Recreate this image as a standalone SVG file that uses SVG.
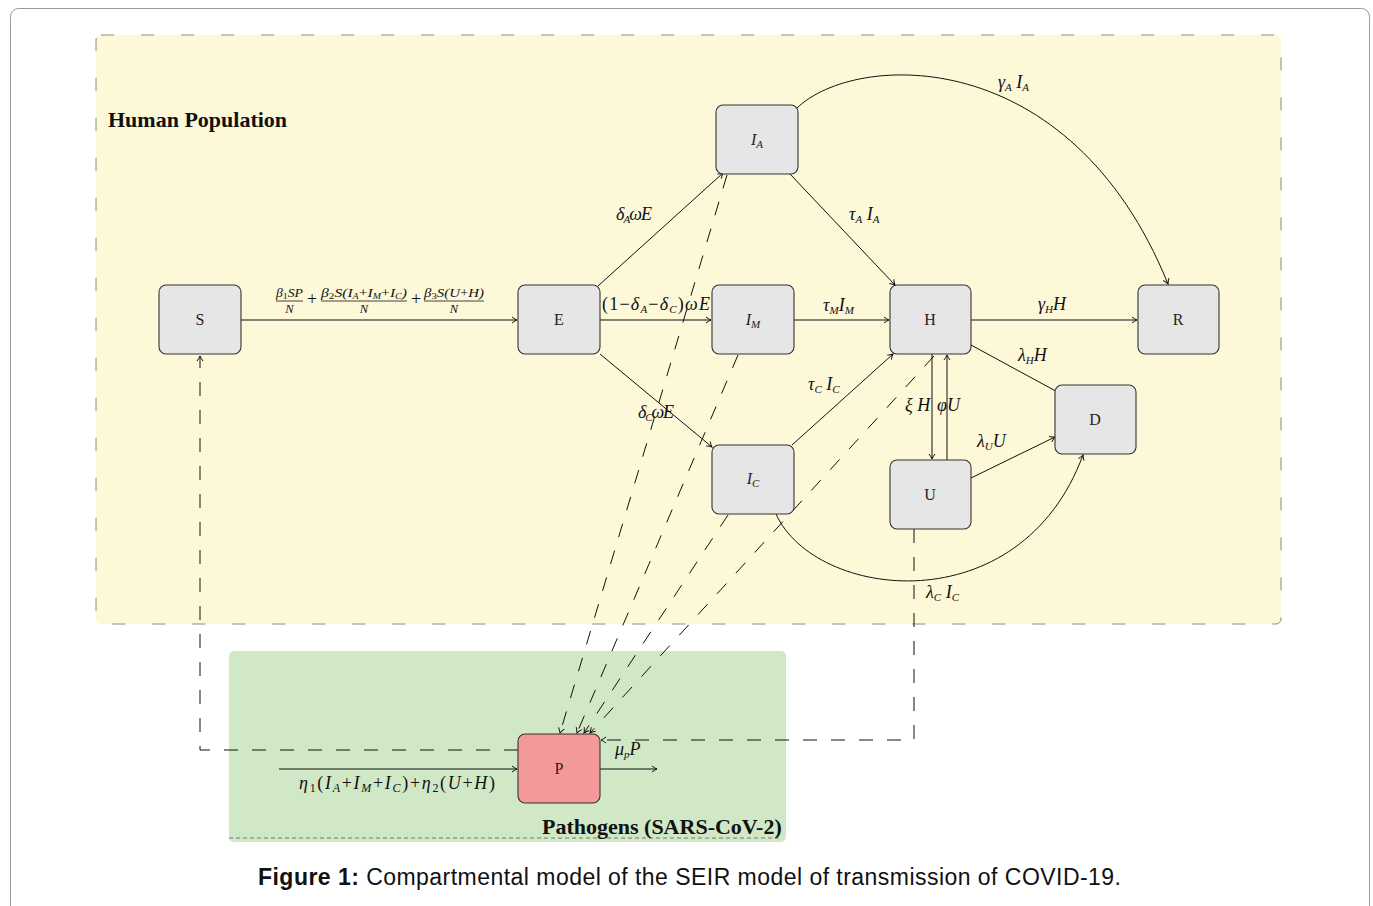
<svg xmlns="http://www.w3.org/2000/svg" width="1373" height="906" viewBox="0 0 1373 906">
<defs>
<style>
.node{fill:#e6e6e6;stroke:#333;stroke-width:1.1}
.pnode{fill:#f4999a;stroke:#333;stroke-width:1.1}
.edge{fill:none;stroke:#111;stroke-width:1}
.dash{fill:none;stroke:#111;stroke-width:1;stroke-dasharray:14 14}
.nl{font-family:"Liberation Serif",serif;font-size:16px;fill:#222;text-anchor:middle}
.m{font-family:"Liberation Serif",serif;font-style:italic;font-size:18px;fill:#111}
.fr{font-family:"Liberation Serif",serif;font-style:italic;font-size:12.5px;fill:#111}
.title{font-family:"Liberation Serif",serif;font-weight:bold;font-size:22px;fill:#111}
</style>
<marker id="ar" markerWidth="10" markerHeight="10" refX="7" refY="5" orient="auto" markerUnits="userSpaceOnUse">
<path d="M2,2 Q5,4.2 7,5 Q5,5.8 2,8" fill="none" stroke="#111" stroke-width="1"/>
</marker>
</defs>
<rect x="0" y="0" width="1373" height="906" fill="#fff"/>
<rect x="10.5" y="8.5" width="1359" height="910" rx="8" fill="#fff" stroke="#9a9a9a" stroke-width="1"/>

<g id="human-population">
<rect x="96" y="35" width="1185" height="589" rx="5" fill="#fdf8d8" stroke="#8a8a8a" stroke-width="1" stroke-dasharray="13 27"/>
<text class="title" x="108" y="127">Human Population</text>
</g>
<g id="pathogens">
<rect x="229" y="651" width="557" height="191" rx="5" fill="#d0e8c5"/>
<line x1="229" y1="838" x2="781" y2="838" stroke="#777" stroke-width="1.2" stroke-dasharray="4 3"/>
<text class="title" x="542" y="834">Pathogens (SARS-CoV-2)</text>
</g>

<g id="connectors">
<line class="edge" x1="241" y1="320" x2="517" y2="320" marker-end="url(#ar)"/>
<line class="edge" x1="598" y1="286" x2="723" y2="173" marker-end="url(#ar)"/>
<line class="edge" x1="600" y1="320" x2="711" y2="320" marker-end="url(#ar)"/>
<line class="edge" x1="600" y1="354" x2="712" y2="447" marker-end="url(#ar)"/>
<line class="edge" x1="790" y1="174" x2="895" y2="285" marker-end="url(#ar)"/>
<line class="edge" x1="794" y1="320" x2="889" y2="320" marker-end="url(#ar)"/>
<line class="edge" x1="792" y1="445" x2="893" y2="354" marker-end="url(#ar)"/>
<line class="edge" x1="971" y1="320" x2="1137" y2="320" marker-end="url(#ar)"/>
<line class="edge" x1="971" y1="345" x2="1063" y2="395" marker-end="url(#ar)"/>
<line class="edge" x1="932" y1="354" x2="932" y2="459" marker-end="url(#ar)"/>
<line class="edge" x1="947" y1="460" x2="947" y2="355" marker-end="url(#ar)"/>
<line class="edge" x1="971" y1="478" x2="1055" y2="437" marker-end="url(#ar)"/>
<path class="edge" d="M797,108 C855,52 1070,42 1168,284" marker-end="url(#ar)"/>
<path class="edge" d="M776,514 C815,600 1020,625 1083,455" marker-end="url(#ar)"/>
<line class="edge" x1="279" y1="769" x2="517" y2="769" marker-end="url(#ar)"/>
<line class="edge" x1="600" y1="769" x2="657" y2="769" marker-end="url(#ar)"/>
<path class="dash" d="M518,750 L200,750 L200,356" marker-end="url(#ar)"/>
<path class="dash" d="M914,529 L914,740 L601,740" marker-end="url(#ar)"/>
<line class="dash" x1="727" y1="175" x2="560" y2="733" marker-end="url(#ar)"/>
<line class="dash" x1="738" y1="355" x2="577" y2="733" marker-end="url(#ar)"/>
<line class="dash" x1="728" y1="515" x2="584" y2="733" marker-end="url(#ar)"/>
<line class="dash" x1="934" y1="356" x2="590" y2="733" marker-end="url(#ar)"/>
</g>

<g id="edge-labels">
<text class="fr" x="276" y="297" textLength="27" lengthAdjust="spacingAndGlyphs">β<tspan dy="2" font-size="9" font-style="normal">1</tspan><tspan dy="-2">SP</tspan></text>
<line x1="276" y1="301" x2="303" y2="301" stroke="#111" stroke-width="0.8"/>
<text class="fr" x="289.5" y="313" text-anchor="middle">N</text>
<text x="312" y="305" font-family="Liberation Serif,serif" font-size="18" text-anchor="middle" fill="#111">+</text>
<text class="fr" x="321" y="297" textLength="86" lengthAdjust="spacingAndGlyphs">β<tspan dy="2" font-size="9" font-style="normal">2</tspan><tspan dy="-2">S(I</tspan><tspan dy="2" font-size="8">A</tspan><tspan dy="-2" font-style="normal">+</tspan>I<tspan dy="2" font-size="8">M</tspan><tspan dy="-2" font-style="normal">+</tspan>I<tspan dy="2" font-size="8">C</tspan><tspan dy="-2">)</tspan></text>
<line x1="321" y1="301" x2="407" y2="301" stroke="#111" stroke-width="0.8"/>
<text class="fr" x="364" y="313" text-anchor="middle">N</text>
<text x="416" y="305" font-family="Liberation Serif,serif" font-size="18" text-anchor="middle" fill="#111">+</text>
<text class="fr" x="424" y="297" textLength="60" lengthAdjust="spacingAndGlyphs">β<tspan dy="2" font-size="9" font-style="normal">3</tspan><tspan dy="-2">S(U</tspan><tspan font-style="normal">+</tspan>H)</text>
<line x1="424" y1="301" x2="484" y2="301" stroke="#111" stroke-width="0.8"/>
<text class="fr" x="454" y="313" text-anchor="middle">N</text>

<text class="m" x="616" y="220" textLength="36">δ<tspan dy="3" font-size="11">A</tspan><tspan dy="-3">ωE</tspan></text>
<text class="m" x="602" y="310" textLength="108"><tspan font-style="normal">(1−</tspan>δ<tspan dy="3" font-size="11">A</tspan><tspan dy="-3" font-style="normal">−</tspan>δ<tspan dy="3" font-size="11">C</tspan><tspan dy="-3" font-style="normal">)</tspan>ωE</text>
<text class="m" x="638" y="418" textLength="36">δ<tspan dy="3" font-size="11">C</tspan><tspan dy="-3">ωE</tspan></text>
<text class="m" x="849" y="220">τ<tspan dy="3" font-size="11">A</tspan><tspan dy="-3"> I</tspan><tspan dy="3" font-size="11">A</tspan></text>
<text class="m" x="823" y="311">τ<tspan dy="3" font-size="11">M</tspan><tspan dy="-3">I</tspan><tspan dy="3" font-size="11">M</tspan></text>
<text class="m" x="808" y="390">τ<tspan dy="3" font-size="11">C</tspan><tspan dy="-3"> I</tspan><tspan dy="3" font-size="11">C</tspan></text>
<text class="m" x="905" y="411">ξ H</text>
<text class="m" x="937" y="411">φU</text>
<text class="m" x="998" y="88">γ<tspan dy="3" font-size="11">A</tspan><tspan dy="-3"> I</tspan><tspan dy="3" font-size="11">A</tspan></text>
<text class="m" x="1038" y="310">γ<tspan dy="3" font-size="11">H</tspan><tspan dy="-3">H</tspan></text>
<text class="m" x="1018" y="361">λ<tspan dy="3" font-size="11">H</tspan><tspan dy="-3">H</tspan></text>
<text class="m" x="977" y="447">λ<tspan dy="3" font-size="11">U</tspan><tspan dy="-3">U</tspan></text>
<text class="m" x="926" y="598">λ<tspan dy="3" font-size="11">C</tspan><tspan dy="-3"> I</tspan><tspan dy="3" font-size="11">C</tspan></text>
<text class="m" x="615" y="755">μ<tspan dy="3" font-size="11">p</tspan><tspan dy="-3">P</tspan></text>
<text class="m" x="299" y="789" font-size="19" textLength="196">η<tspan dy="3" font-size="12" font-style="normal">1</tspan><tspan dy="-3" font-style="normal">(</tspan>I<tspan dy="3" font-size="12">A</tspan><tspan dy="-3" font-style="normal">+</tspan>I<tspan dy="3" font-size="12">M</tspan><tspan dy="-3" font-style="normal">+</tspan>I<tspan dy="3" font-size="12">C</tspan><tspan dy="-3" font-style="normal">)+</tspan>η<tspan dy="3" font-size="12" font-style="normal">2</tspan><tspan dy="-3" font-style="normal">(</tspan>U<tspan font-style="normal">+</tspan>H<tspan font-style="normal">)</tspan></text>
</g>

<g id="node-S"><rect class="node" x="159" y="285" width="82" height="69" rx="7"/><text class="nl" x="200" y="325">S</text></g>
<g id="node-E"><rect class="node" x="518" y="285" width="82" height="69" rx="7"/><text class="nl" x="559" y="325">E</text></g>
<g id="node-IA"><rect class="node" x="716" y="105" width="82" height="69" rx="7"/><text class="nl" x="757" y="145" font-style="italic">I<tspan dy="3" font-size="11">A</tspan></text></g>
<g id="node-IM"><rect class="node" x="712" y="285" width="82" height="69" rx="7"/><text class="nl" x="753" y="325" font-style="italic">I<tspan dy="3" font-size="11">M</tspan></text></g>
<g id="node-IC"><rect class="node" x="712" y="445" width="82" height="69" rx="7"/><text class="nl" x="753" y="484" font-style="italic">I<tspan dy="3" font-size="11">C</tspan></text></g>
<g id="node-H"><rect class="node" x="890" y="285" width="81" height="69" rx="7"/><text class="nl" x="930" y="325">H</text></g>
<g id="node-R"><rect class="node" x="1138" y="285" width="81" height="69" rx="7"/><text class="nl" x="1178" y="325">R</text></g>
<g id="node-U"><rect class="node" x="890" y="460" width="81" height="69" rx="7"/><text class="nl" x="930" y="500">U</text></g>
<g id="node-D"><rect class="node" x="1055" y="385" width="81" height="69" rx="7"/><text class="nl" x="1095" y="425">D</text></g>
<g id="node-P"><rect class="pnode" x="518" y="734" width="82" height="69" rx="7"/><text class="nl" x="559" y="774">P</text></g>

<g id="caption">
<text x="258" y="885" font-family="Liberation Sans,Arial,sans-serif" font-size="23" fill="#111" textLength="863"><tspan font-weight="bold">Figure 1:</tspan> Compartmental model of the SEIR model of transmission of COVID-19.</text>
</g>
</svg>
